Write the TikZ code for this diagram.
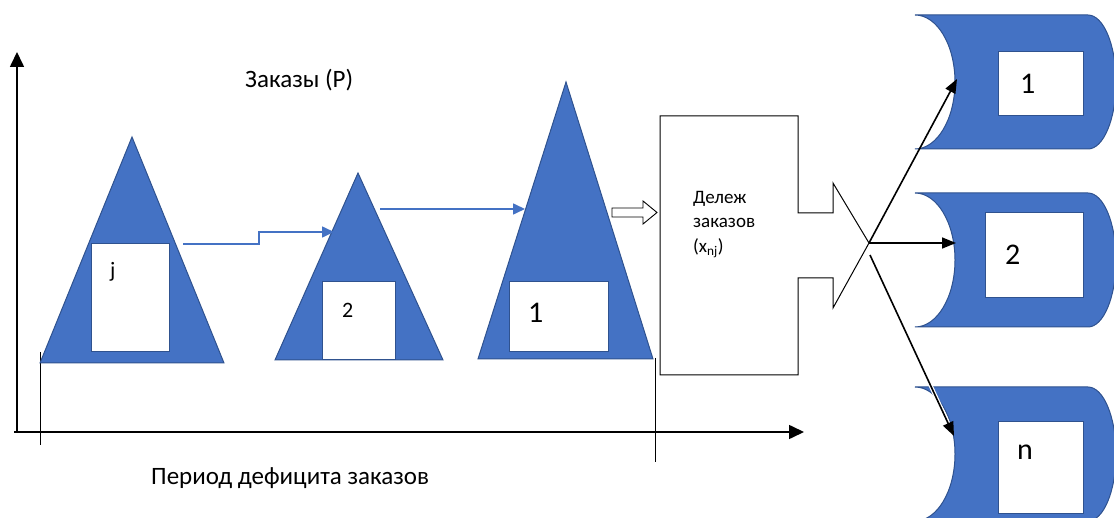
\documentclass[tikz,border=0pt]{standalone}
\usepackage{fontspec}
\setmainfont{Carlito}
\usetikzlibrary{arrows.meta}
\definecolor{ofblue}{HTML}{4472C4}
\definecolor{ofdark}{HTML}{2F528F}
\tikzset{
  tri/.style={fill=ofblue,draw=ofdark,line width=1pt,line join=miter},
  wbox/.style={fill=white,draw=ofdark,line width=1pt},
  axis/.style={line width=1.6pt,-{Triangle[length=15pt,width=14pt]}},
  tick/.style={line width=0.8pt},
  bluearr/.style={draw=ofblue,line width=1.6pt,-{Triangle[length=12pt,width=11pt]}},
  blkarr/.style={line width=1.6pt,-{Triangle[length=14pt,width=11pt]}},
  lbl/.style={inner sep=0pt,anchor=west},
}
\begin{document}
\begin{tikzpicture}[x=1pt,y=-1pt]
\useasboundingbox (0,0) rectangle (1114,518);
% axes
\coordinate (O) at (17,432);
\coordinate (ytop) at (17,52);
\coordinate (xstart) at (14,432);
\coordinate (xend) at (804,432);
\draw[axis] (O) -- (ytop);
\draw[axis] (xstart) -- (xend);
\coordinate (tka) at (40,352);
\coordinate (tkb) at (40,445);
\coordinate (tkc) at (655,358);
\coordinate (tkd) at (655,462);
\draw[tick] (tka) -- (tkb);
\draw[tick] (tkc) -- (tkd);
% labels
\node[lbl,font=\fontsize{25}{28}\selectfont] (zak) at (245,80) {Заказы (P)};
\node[lbl,font=\fontsize{25}{28}\selectfont] (per) at (151,478) {Период дефицита заказов};
% triangle j
\draw[tri] (132,137) -- (224,363) -- (40,363) -- cycle;
\node[wbox,minimum width=78pt,minimum height=108pt,inner sep=0pt] (bj) at (130,298) {};
\node[lbl,font=\fontsize{22}{24}\selectfont] (lj) at (110,272) {j};
% triangle 2
\draw[tri] (358,173) -- (443,360) -- (275,360) -- cycle;
\node[wbox,minimum width=73pt,minimum height=78pt,inner sep=0pt] (b2) at (358.5,321) {};
\node[lbl,font=\fontsize{22}{24}\selectfont] (l2) at (342,310) {2};
% triangle 1
\draw[tri] (566,82) -- (653,359) -- (478,359) -- cycle;
\node[wbox,minimum width=99pt,minimum height=70pt,inner sep=0pt] (b1) at (558.5,317) {};
\node[lbl,font=\fontsize{30}{32}\selectfont] (l1) at (528,313) {1};
% blue connectors
\coordinate (jout) at (183,244);
\coordinate (t2in) at (334,232);
\coordinate (t2out) at (380,209);
\coordinate (t1in) at (525,209);
\draw[bluearr] (jout) -- ++(76,0) |- (t2in);
\draw[bluearr] (t2out) -- (t1in);
% hollow block arrow
\draw[line width=0.9pt,fill=white] (612,208) -- (643,208) -- (643,201) -- (657,212.5) -- (643,224) -- (643,217) -- (612,217) -- cycle;
% sharing box with funnel
\coordinate (hub) at (869,243);
\draw[line width=1pt,line join=miter] (hub) -- (833,183) -- (833,213) -- (798,213) -- (798,116) -- (660,116) -- (660,375) -- (798,375) -- (798,278) -- (833,278) -- (833,308) -- (hub);
\node[inner sep=0pt,anchor=north west,align=left,font=\fontsize{19}{24.5}\selectfont] (del) at (693,191) {Дележ\\заказов\\(x\textsubscript{nj})};
% cylinders
\begin{scope}
\clip (0,0) rectangle (1114,518);
\foreach \cy in {82,260,454}{
  \draw[fill=ofblue,draw=ofdark,line width=1pt] (915,\cy-67) -- (1088,\cy-67) arc[start angle=-90,end angle=90,x radius=28,y radius=67] -- (915,\cy+67) arc[start angle=90,end angle=-90,x radius=40,y radius=67] -- cycle;
}
\end{scope}
\node[wbox,minimum width=85pt,minimum height=64pt,inner sep=0pt] (r1) at (1040.5,84) {};
\node[lbl,font=\fontsize{30}{32}\selectfont] (lr1) at (1020,84) {1};
\node[wbox,minimum width=98pt,minimum height=85pt,inner sep=0pt] (r2) at (1034,255.5) {};
\node[lbl,font=\fontsize{30}{32}\selectfont] (lr2) at (1005,255) {2};
\node[wbox,minimum width=85pt,minimum height=91pt,inner sep=0pt] (rn) at (1040.5,467.5) {};
\node[lbl,font=\fontsize{30}{32}\selectfont] (lrn) at (1017,452) {n};
% black connectors
\coordinate (c1) at (957,79);
\coordinate (c2) at (956,243);
\coordinate (cn) at (954,436);
\coordinate (hubn) at (870,255);
\draw[blkarr] (hub) -- (c1);
\draw[blkarr] (hub) -- (c2);
\draw[white,line width=4pt,shorten >=14pt] (hubn) -- (cn);
\draw[blkarr] (hubn) -- (cn);
\end{tikzpicture}
\end{document}
